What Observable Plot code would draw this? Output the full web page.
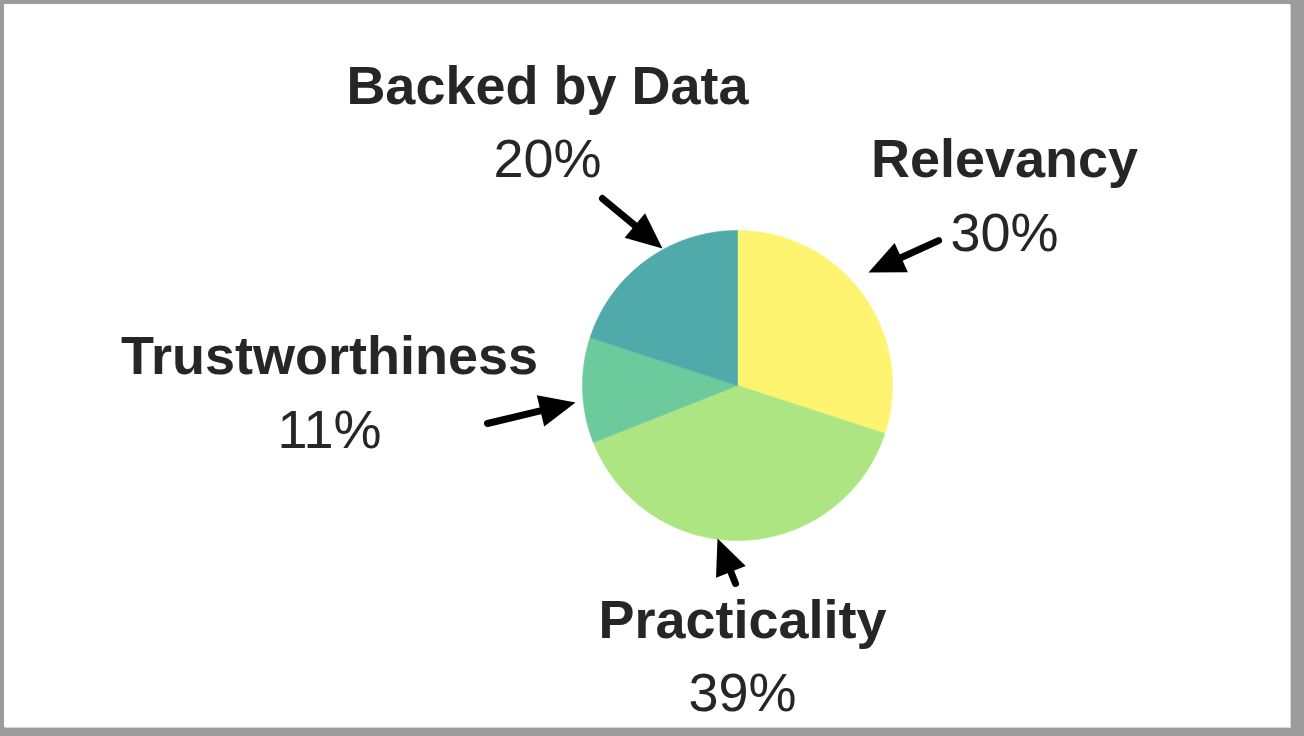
<!DOCTYPE html>
<html><head><meta charset="utf-8">
<script src="https://cdn.jsdelivr.net/npm/d3@7"></script>
<script src="https://cdn.jsdelivr.net/npm/@observablehq/plot@0.6"></script>
<style>
html,body{margin:0;padding:0;background:#9c9c9c;width:1304px;height:736px;overflow:hidden}
#frame{position:absolute;left:4px;top:4px;width:1286px;height:723px;background:#fff;box-shadow:1px 1px 0 #d8d8d8}
#chart{position:absolute;left:0;top:0}
#chart svg{background:transparent}
</style></head><body><div id="frame"></div><div id="chart"></div>
<script>
// ---- data ----
const categories = ["Relevancy", "Practicality", "Trustworthiness", "Backed by Data"];
const shares = [30, 39, 11, 20];
const colors = ["#fff46f", "#aee583", "#6dca9d", "#4faaa9"];

// ---- layout (units of pie radius, relative to pie centre, y up) ----
const layout = {
  "Relevancy":       {label: [1.723, 1.342],  tail: [1.297, 0.935],  tip: [0.845, 0.729]},
  "Practicality":    {label: [0.032, -1.626], tail: [-0.013, -1.277], tip: [-0.129, -0.987]},
  "Trustworthiness": {label: [-2.632, 0.077], tail: [-1.613, -0.245], tip: [-1.045, -0.11]},
  "Backed by Data":  {label: [-1.226, 1.819], tail: [-0.871, 1.206],  tip: [-0.484, 0.884]}
};
const lineGap = 0.477;    // label -> percentage baseline gap
const headLen = 36 / 155; // arrow head length in radius units

// ---- slices from d3.pie ----
const arcs = d3.pie().sort(null).startAngle(0).endAngle(2 * Math.PI)(shares);
const slicePts = [];
arcs.forEach((a, i) => {
  const c = categories[i];
  slicePts.push({category: c, x: 0, y: 0});
  const n = Math.max(2, Math.ceil((a.endAngle - a.startAngle) / (Math.PI / 360)));
  for (let k = 0; k <= n; k++) {
    const t = a.startAngle + (a.endAngle - a.startAngle) * k / n;
    slicePts.push({category: c, x: Math.sin(t), y: Math.cos(t)});
  }
  slicePts.push({category: c, x: 0, y: 0});
});

const labelRows = categories.map((c, i) => ({
  category: c, pct: `${shares[i]}%`, x: layout[c].label[0], y: layout[c].label[1]
}));

const arrowRows = categories.map(c => {
  const [x1, y1] = layout[c].tail, [x2, y2] = layout[c].tip;
  const len = Math.hypot(x2 - x1, y2 - y1);
  const ux = (x2 - x1) / len, uy = (y2 - y1) / len;
  return {
    category: c, x1, y1, x2, y2,
    bx: x2 - ux * headLen * 0.8, by: y2 - uy * headLen * 0.8,
    angle: Math.atan2(ux, uy) * 180 / Math.PI
  };
});

// arrowhead symbol with the tip at the origin, pointing up
const arrowHead = {
  draw(ctx, size) {
    ctx.moveTo(0, 0);
    ctx.lineTo(16, 36);
    ctx.lineTo(-16, 36);
    ctx.closePath();
  }
};

const font = "'Liberation Sans', Arial, sans-serif";

const chart = Plot.plot({
  width: 1304,
  height: 736,
  margin: 0,
  x: {domain: [-1, 1], range: [582, 892], axis: null},
  y: {domain: [-1, 1], range: [540, 230], axis: null},
  color: {domain: categories, range: colors},
  style: {background: "transparent", fontFamily: font},
  marks: [
    Plot.line(slicePts, {x: "x", y: "y", z: "category", fill: "category", stroke: "category", strokeWidth: 0.6, curve: "linear"}),
    Plot.link(arrowRows, {x1: "x1", y1: "y1", x2: "bx", y2: "by", stroke: "#000", strokeWidth: 7, strokeLinecap: "round"}),
    Plot.dot(arrowRows, {x: "x2", y: "y2", symbol: arrowHead, rotate: "angle", fill: "#000", stroke: "none"}),
    Plot.text(labelRows, {x: "x", y: "y", text: "category", fontSize: 54, fontWeight: "bold", lineAnchor: "bottom", fill: "#262626"}),
    Plot.text(labelRows, {x: "x", y: d => d.y - lineGap, text: "pct", fontSize: 54, lineAnchor: "bottom", fill: "#262626"})
  ]
});
document.getElementById("chart").appendChild(chart);
</script>
</body></html>
